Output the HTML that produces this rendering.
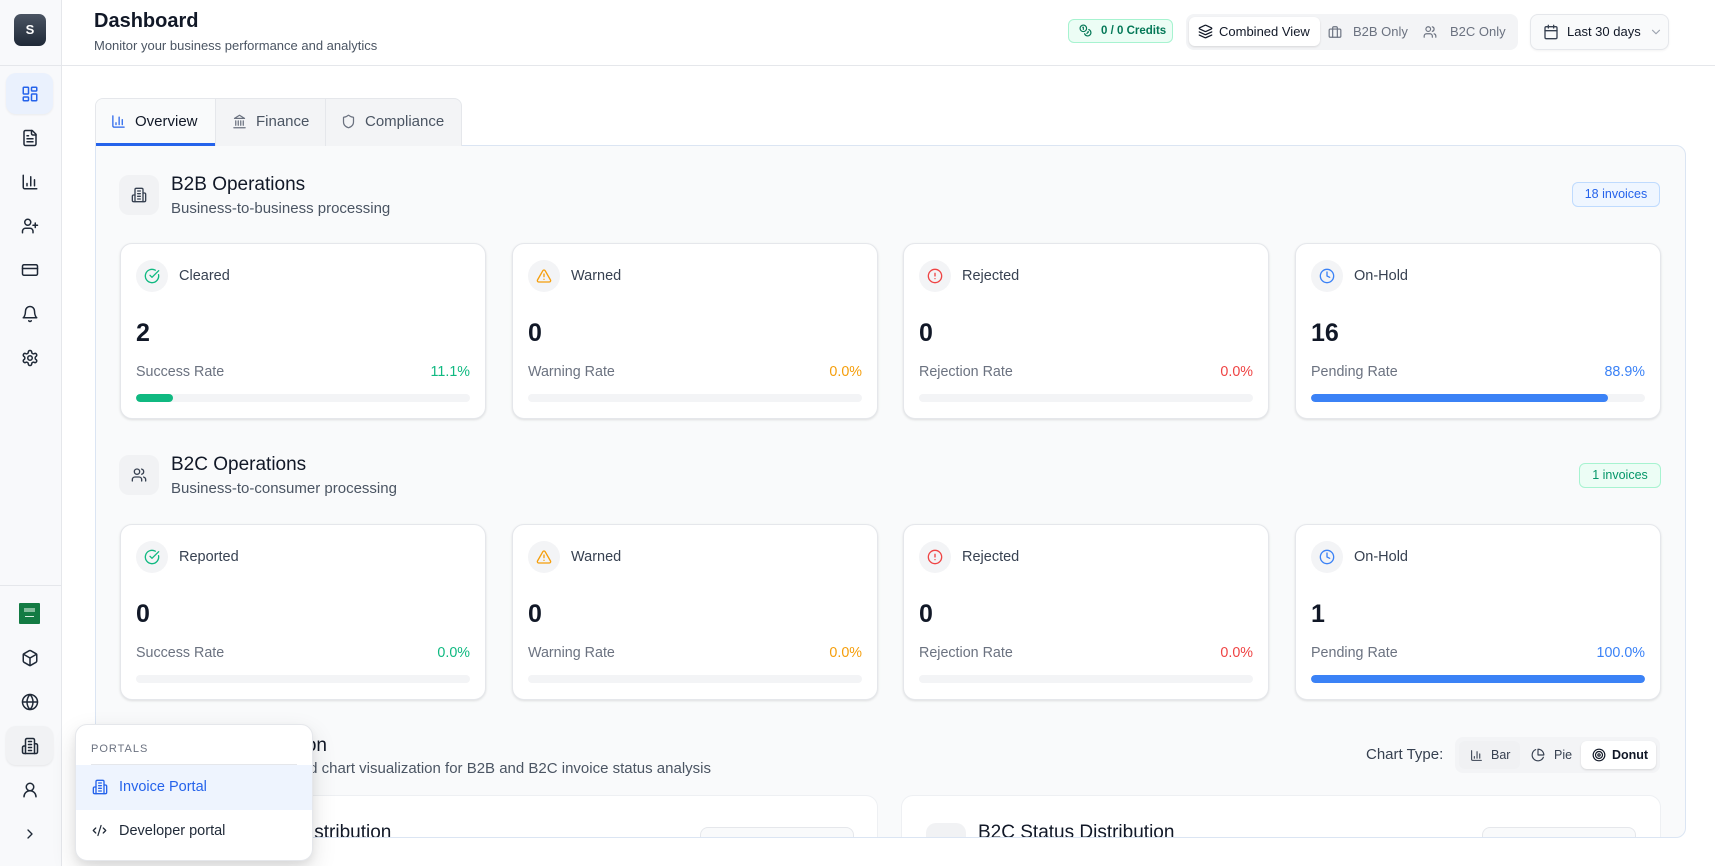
<!DOCTYPE html>
<html><head><meta charset="utf-8">
<style>
*{box-sizing:border-box;margin:0;padding:0}
html{overflow:hidden}
body{width:1715px;height:866px;overflow:hidden;background:#fff;font-family:"Liberation Sans",Arial,sans-serif;color:#111827;position:relative}
.a{position:absolute;white-space:nowrap}
svg.i{fill:none;stroke:currentColor;stroke-width:2;stroke-linecap:round;stroke-linejoin:round;position:absolute}
.side{left:0;top:0;width:62px;height:866px;background:#f8f9fb;border-right:1px solid #e5e7eb}
.sic{color:#1f2937}
.panel{left:95px;top:145px;width:1591px;height:693px;background:#f9fafb;border:1px solid #dbe5f3;border-radius:0 10px 10px 10px;overflow:hidden}
.card{position:absolute;width:366px;height:176px;background:#fff;border:1px solid #e5e7eb;border-radius:12px;box-shadow:0 1px 2px rgba(0,0,0,.07),0 1px 3px rgba(0,0,0,.05)}
.ci{position:absolute;left:15px;top:16px;width:32px;height:32px;border-radius:50%;background:#f3f4f6}
.ci svg{left:8px;top:8px}
.cl{position:absolute;left:58px;top:22px;line-height:20px;font-size:14.5px;color:#374151}
.cn{position:absolute;left:15px;top:74px;line-height:30px;font-size:25px;font-weight:600;color:#111827}
.cr{position:absolute;left:15px;right:15px;top:119px;line-height:18px;font-size:14.3px;color:#6b7280}
.cr span{position:absolute;right:0;top:0}
.cb{position:absolute;left:15px;right:15px;top:150px;height:8px;border-radius:4px;background:#f3f4f6;overflow:hidden}
.cb div{height:8px;border-radius:4px}
.hb{position:absolute;width:40px;height:40px;border-radius:10px;background:#f1f2f4;color:#374151}
.hb svg{left:12px;top:12px}
.ht{position:absolute;left:75px;font-size:19px;line-height:24px;font-weight:500;color:#111827;white-space:nowrap}
.hs{position:absolute;left:75px;font-size:15px;line-height:18px;color:#4b5563;white-space:nowrap}
.g{color:#10b981}.o{color:#f59e0b}.r{color:#ef4444}.b{color:#3b82f6}
</style></head><body>

<!-- Sidebar -->
<div class="a side"></div>
<div class="a" style="left:14px;top:14px;width:32px;height:32px;border-radius:7px;background:linear-gradient(#4b5563,#1f2937);color:#fff;font-size:13px;font-weight:bold;line-height:32px;text-align:center">S</div>
<div class="a" style="left:0;top:65px;width:1715px;height:1px;background:#e5e7eb"></div>
<div class="a" style="left:6px;top:73px;width:47px;height:41px;border-radius:10px;background:#eaf1fd;box-shadow:0 1px 2px rgba(0,0,0,.06)"></div>
<svg class="i" style="left:21px;top:85px;color:#2563eb" width="18" height="18" viewBox="0 0 24 24"><rect x="3" y="3" width="7" height="9" rx="1"/><rect x="14" y="3" width="7" height="5" rx="1"/><rect x="14" y="12" width="7" height="9" rx="1"/><rect x="3" y="16" width="7" height="5" rx="1"/></svg>
<svg class="i sic" style="left:21px;top:129px" width="18" height="18" viewBox="0 0 24 24"><path d="M15 2H6a2 2 0 0 0-2 2v16a2 2 0 0 0 2 2h12a2 2 0 0 0 2-2V7Z"/><path d="M14 2v4a2 2 0 0 0 2 2h4"/><path d="M10 9H8M16 13H8M16 17H8"/></svg>
<svg class="i sic" style="left:21px;top:173px" width="18" height="18" viewBox="0 0 24 24"><path d="M3 3v16a2 2 0 0 0 2 2h16"/><path d="M18 17V9M13 17V5M8 17v-3"/></svg>
<svg class="i sic" style="left:21px;top:217px" width="18" height="18" viewBox="0 0 24 24"><path d="M16 21v-2a4 4 0 0 0-4-4H6a4 4 0 0 0-4 4v2"/><circle cx="9" cy="7" r="4"/><path d="M19 8v6M22 11h-6"/></svg>
<svg class="i sic" style="left:21px;top:261px" width="18" height="18" viewBox="0 0 24 24"><rect x="2" y="5" width="20" height="14" rx="2"/><path d="M2 10h20"/></svg>
<svg class="i sic" style="left:21px;top:305px" width="18" height="18" viewBox="0 0 24 24"><path d="M6 8a6 6 0 0 1 12 0c0 7 3 9 3 9H3s3-2 3-9"/><path d="M10.3 21a1.94 1.94 0 0 0 3.4 0"/></svg>
<svg class="i sic" style="left:21px;top:349px" width="18" height="18" viewBox="0 0 24 24"><path d="M12.22 2h-.44a2 2 0 0 0-2 2v.18a2 2 0 0 1-1 1.73l-.43.25a2 2 0 0 1-2 0l-.15-.08a2 2 0 0 0-2.73.73l-.22.38a2 2 0 0 0 .73 2.73l.15.1a2 2 0 0 1 1 1.72v.51a2 2 0 0 1-1 1.74l-.15.09a2 2 0 0 0-.73 2.73l.22.38a2 2 0 0 0 2.73.73l.15-.08a2 2 0 0 1 2 0l.43.25a2 2 0 0 1 1 1.73V20a2 2 0 0 0 2 2h.44a2 2 0 0 0 2-2v-.18a2 2 0 0 1 1-1.73l.43-.25a2 2 0 0 1 2 0l.15.08a2 2 0 0 0 2.73-.73l.22-.39a2 2 0 0 0-.73-2.73l-.15-.08a2 2 0 0 1-1-1.74v-.5a2 2 0 0 1 1-1.74l.15-.09a2 2 0 0 0 .73-2.73l-.22-.38a2 2 0 0 0-2.73-.73l-.15.08a2 2 0 0 1-2 0l-.43-.25a2 2 0 0 1-1-1.73V4a2 2 0 0 0-2-2z"/><circle cx="12" cy="12" r="3"/></svg>
<div class="a" style="left:0;top:585px;width:61px;height:1px;background:#e5e7eb"></div>
<div class="a" style="left:19px;top:603px;width:21px;height:21px;background:#137b43;border-radius:1px"></div>
<div class="a" style="left:24px;top:608px;width:11px;height:4px;background:#9fcdb1;opacity:.8"></div>
<div class="a" style="left:25px;top:616px;width:9px;height:1px;background:#d8ece0"></div>
<svg class="i sic" style="left:21px;top:649px" width="18" height="18" viewBox="0 0 24 24"><path d="M21 8a2 2 0 0 0-1-1.73l-7-4a2 2 0 0 0-2 0l-7 4A2 2 0 0 0 3 8v8a2 2 0 0 0 1 1.73l7 4a2 2 0 0 0 2 0l7-4A2 2 0 0 0 21 16Z"/><path d="m3.3 7 8.7 5 8.7-5M12 22V12"/></svg>
<svg class="i sic" style="left:21px;top:693px" width="18" height="18" viewBox="0 0 24 24"><circle cx="12" cy="12" r="10"/><path d="M12 2a14.5 14.5 0 0 0 0 20 14.5 14.5 0 0 0 0-20M2 12h20"/></svg>
<div class="a" style="left:6px;top:726px;width:47px;height:39px;border-radius:10px;background:#f1f2f4;box-shadow:0 1px 2px rgba(0,0,0,.08)"></div>
<svg class="i sic" style="left:21px;top:737px" width="18" height="18" viewBox="0 0 24 24"><path d="M6 22V4a2 2 0 0 1 2-2h8a2 2 0 0 1 2 2v18Z"/><path d="M6 12H4a2 2 0 0 0-2 2v6a2 2 0 0 0 2 2h2M18 9h2a2 2 0 0 1 2 2v9a2 2 0 0 1-2 2h-2M10 6h4M10 10h4M10 14h4M10 18h4"/></svg>
<svg class="i sic" style="left:21px;top:781px" width="18" height="18" viewBox="0 0 24 24"><circle cx="12" cy="8" r="5"/><path d="M20 21a8 8 0 0 0-16 0"/></svg>
<svg class="i sic" style="left:22px;top:826px" width="16" height="16" viewBox="0 0 24 24"><path d="m9 18 6-6-6-6"/></svg>

<!-- Header -->
<div class="a" style="left:94px;top:9px;font-size:20px;line-height:24px;font-weight:bold;color:#111827">Dashboard</div>
<div class="a" style="left:94px;top:38px;font-size:13px;line-height:16px;color:#4b5563">Monitor your business performance and analytics</div>

<div class="a" style="left:1068px;top:19px;width:105px;height:24px;border-radius:6px;background:#ecfdf5;border:1px solid #a7f3d0;color:#047857">
<svg class="i" style="left:10px;top:4px;stroke-width:2.2" width="13" height="13" viewBox="0 0 24 24"><circle cx="8" cy="8" r="6"/><path d="M18.09 10.37A6 6 0 1 1 10.34 18M7 6h1v4m8.71 3.88.7.71-2.82 2.82"/></svg>
<div class="a" style="left:32px;top:0;line-height:22px;font-size:11.5px;font-weight:bold">0 / 0 Credits</div></div>

<div class="a" style="left:1186px;top:14px;width:332px;height:36px;border-radius:8px;background:#f3f4f6"></div>
<div class="a" style="left:1189px;top:17px;width:131px;height:29px;border-radius:6px;background:#fff;box-shadow:0 1px 2px rgba(0,0,0,.12)"></div>
<svg class="i" style="left:1198px;top:24px;color:#111827" width="15" height="15" viewBox="0 0 24 24"><path d="M12.83 2.18a2 2 0 0 0-1.66 0L2.6 6.08a1 1 0 0 0 0 1.83l8.58 3.91a2 2 0 0 0 1.66 0l8.58-3.9a1 1 0 0 0 0-1.83Z"/><path d="m22 17.65-9.17 4.16a2 2 0 0 1-1.66 0L2 17.65M22 12.65l-9.17 4.16a2 2 0 0 1-1.66 0L2 12.65"/></svg>
<div class="a" style="left:1219px;top:23px;line-height:17px;font-size:13px;font-weight:500;color:#111827">Combined View</div>
<svg class="i" style="left:1328px;top:25px;color:#6b7280" width="14" height="14" viewBox="0 0 24 24"><rect x="2" y="7" width="20" height="14" rx="2"/><path d="M16 21V5a2 2 0 0 0-2-2h-4a2 2 0 0 0-2 2v16"/></svg>
<div class="a" style="left:1353px;top:23px;line-height:17px;font-size:13px;color:#6b7280">B2B Only</div>
<svg class="i" style="left:1423px;top:25px;color:#6b7280" width="14" height="14" viewBox="0 0 24 24"><path d="M16 21v-2a4 4 0 0 0-4-4H6a4 4 0 0 0-4 4v2"/><circle cx="9" cy="7" r="4"/><path d="M22 21v-2a4 4 0 0 0-3-3.87M16 3.13a4 4 0 0 1 0 7.75"/></svg>
<div class="a" style="left:1450px;top:23px;line-height:17px;font-size:13px;color:#6b7280">B2C Only</div>

<div class="a" style="left:1530px;top:14px;width:139px;height:36px;border-radius:8px;background:#f9fafb;border:1px solid #e5e7eb;box-shadow:0 1px 2px rgba(0,0,0,.05)"></div>
<svg class="i" style="left:1543px;top:24px;color:#374151" width="16" height="16" viewBox="0 0 24 24"><rect x="3" y="4" width="18" height="18" rx="2"/><path d="M16 2v4M8 2v4M3 10h18"/></svg>
<div class="a" style="left:1567px;top:23px;line-height:17px;font-size:13px;color:#111827">Last 30 days</div>
<svg class="i" style="left:1649px;top:25px;color:#9ca3af" width="14" height="14" viewBox="0 0 24 24"><path d="m6 9 6 6 6-6"/></svg>

<!-- Panel -->
<div class="a panel">
  <!-- B2B header -->
  <div class="hb" style="left:23px;top:29px"><svg class="i" width="16" height="16" viewBox="0 0 24 24"><path d="M6 22V4a2 2 0 0 1 2-2h8a2 2 0 0 1 2 2v18Z"/><path d="M6 12H4a2 2 0 0 0-2 2v6a2 2 0 0 0 2 2h2M18 9h2a2 2 0 0 1 2 2v9a2 2 0 0 1-2 2h-2M10 6h4M10 10h4M10 14h4M10 18h4"/></svg></div>
  <div class="ht" style="top:27px">B2B Operations</div>
  <div class="hs" style="top:54px">Business-to-business processing</div>
  <div class="a" style="left:1476px;top:36px;width:88px;height:25px;border-radius:6px;background:#eff6ff;border:1px solid #bfdbfe;color:#2563eb;font-size:12.5px;line-height:23px;text-align:center">18 invoices</div>

  <!-- Row 1 -->
  <div class="card" style="left:24px;top:97px">
    <div class="ci g"><svg class="i" width="16" height="16" viewBox="0 0 24 24"><path d="M21.8 10A10 10 0 1 1 17 3.34"/><path d="m9 11 3 3L22 4"/></svg></div>
    <div class="cl">Cleared</div><div class="cn">2</div>
    <div class="cr">Success Rate<span class="g">11.1%</span></div>
    <div class="cb"><div style="width:11.1%;background:#10b981"></div></div>
  </div>
  <div class="card" style="left:416px;top:97px">
    <div class="ci o"><svg class="i" width="16" height="16" viewBox="0 0 24 24"><path d="m21.73 18-8-14a2 2 0 0 0-3.48 0l-8 14A2 2 0 0 0 4 21h16a2 2 0 0 0 1.73-3"/><path d="M12 9v4M12 17h.01"/></svg></div>
    <div class="cl">Warned</div><div class="cn">0</div>
    <div class="cr">Warning Rate<span class="o">0.0%</span></div>
    <div class="cb"></div>
  </div>
  <div class="card" style="left:807px;top:97px">
    <div class="ci r"><svg class="i" width="16" height="16" viewBox="0 0 24 24"><circle cx="12" cy="12" r="10"/><path d="M12 8v4M12 16h.01"/></svg></div>
    <div class="cl">Rejected</div><div class="cn">0</div>
    <div class="cr">Rejection Rate<span class="r">0.0%</span></div>
    <div class="cb"></div>
  </div>
  <div class="card" style="left:1199px;top:97px">
    <div class="ci b"><svg class="i" width="16" height="16" viewBox="0 0 24 24"><circle cx="12" cy="12" r="10"/><path d="M12 6v6l4 2"/></svg></div>
    <div class="cl">On-Hold</div><div class="cn">16</div>
    <div class="cr">Pending Rate<span class="b">88.9%</span></div>
    <div class="cb"><div style="width:88.9%;background:#3b82f6"></div></div>
  </div>

  <!-- B2C header -->
  <div class="hb" style="left:23px;top:309px"><svg class="i" width="16" height="16" viewBox="0 0 24 24"><path d="M16 21v-2a4 4 0 0 0-4-4H6a4 4 0 0 0-4 4v2"/><circle cx="9" cy="7" r="4"/><path d="M22 21v-2a4 4 0 0 0-3-3.87M16 3.13a4 4 0 0 1 0 7.75"/></svg></div>
  <div class="ht" style="top:307px">B2C Operations</div>
  <div class="hs" style="top:334px">Business-to-consumer processing</div>
  <div class="a" style="left:1483px;top:317px;width:82px;height:25px;border-radius:6px;background:#ecfdf5;border:1px solid #a7f3d0;color:#059669;font-size:12.5px;line-height:23px;text-align:center">1 invoices</div>

  <!-- Row 2 -->
  <div class="card" style="left:24px;top:378px">
    <div class="ci g"><svg class="i" width="16" height="16" viewBox="0 0 24 24"><path d="M21.8 10A10 10 0 1 1 17 3.34"/><path d="m9 11 3 3L22 4"/></svg></div>
    <div class="cl">Reported</div><div class="cn">0</div>
    <div class="cr">Success Rate<span class="g">0.0%</span></div>
    <div class="cb"></div>
  </div>
  <div class="card" style="left:416px;top:378px">
    <div class="ci o"><svg class="i" width="16" height="16" viewBox="0 0 24 24"><path d="m21.73 18-8-14a2 2 0 0 0-3.48 0l-8 14A2 2 0 0 0 4 21h16a2 2 0 0 0 1.73-3"/><path d="M12 9v4M12 17h.01"/></svg></div>
    <div class="cl">Warned</div><div class="cn">0</div>
    <div class="cr">Warning Rate<span class="o">0.0%</span></div>
    <div class="cb"></div>
  </div>
  <div class="card" style="left:807px;top:378px">
    <div class="ci r"><svg class="i" width="16" height="16" viewBox="0 0 24 24"><circle cx="12" cy="12" r="10"/><path d="M12 8v4M12 16h.01"/></svg></div>
    <div class="cl">Rejected</div><div class="cn">0</div>
    <div class="cr">Rejection Rate<span class="r">0.0%</span></div>
    <div class="cb"></div>
  </div>
  <div class="card" style="left:1199px;top:378px">
    <div class="ci b"><svg class="i" width="16" height="16" viewBox="0 0 24 24"><circle cx="12" cy="12" r="10"/><path d="M12 6v6l4 2"/></svg></div>
    <div class="cl">On-Hold</div><div class="cn">1</div>
    <div class="cr">Pending Rate<span class="b">100.0%</span></div>
    <div class="cb"><div style="width:100%;background:#3b82f6"></div></div>
  </div>

  <!-- Section 3 -->
  <div class="hb" style="left:23px;top:590px"></div>
  <div class="ht" style="top:588px;left:auto;right:1358px">Status Distribution</div>
  <div class="hs" style="top:614px;left:auto;right:974px">Interactive status-based chart visualization for B2B and B2C invoice status analysis</div>
  <div class="a" style="left:1270px;top:600px;font-size:15px;line-height:18px;color:#374151">Chart Type:</div>
  <div class="a" style="left:1359px;top:591px;width:205px;height:36px;border-radius:8px;background:#f3f4f6"></div>
  <div class="a" style="left:1363px;top:595px;width:61px;height:28px;border-radius:6px;background:#f0f1f3"></div>
  <svg class="i" style="left:1374px;top:603px;color:#374151" width="13" height="13" viewBox="0 0 24 24"><path d="M3 3v16a2 2 0 0 0 2 2h16"/><path d="M18 17V9M13 17V5M8 17v-3"/></svg>
  <div class="a" style="left:1395px;top:601px;font-size:12.5px;line-height:16px;color:#374151">Bar</div>
  <svg class="i" style="left:1435px;top:602px;color:#374151" width="14" height="14" viewBox="0 0 24 24"><path d="M21.21 15.89A10 10 0 1 1 8 2.83"/><path d="M22 12A10 10 0 0 0 12 2v10z"/></svg>
  <div class="a" style="left:1458px;top:601px;font-size:12.5px;line-height:16px;color:#374151">Pie</div>
  <div class="a" style="left:1485px;top:595px;width:75px;height:28px;border-radius:6px;background:#fff;box-shadow:0 1px 2px rgba(0,0,0,.12)"></div>
  <svg class="i" style="left:1496px;top:602px;color:#111827" width="14" height="14" viewBox="0 0 24 24"><circle cx="12" cy="12" r="10"/><circle cx="12" cy="12" r="6"/><circle cx="12" cy="12" r="2"/></svg>
  <div class="a" style="left:1516px;top:601px;font-size:12.5px;line-height:16px;font-weight:bold;color:#111827">Donut</div>

  <!-- Bottom cards (clipped by panel) -->
  <div class="a" style="left:23px;top:649px;width:759px;height:60px;border-radius:12px 12px 0 0;background:#fff;border:1px solid #eef0f3;border-bottom:none;overflow:hidden">
    <div class="hb" style="left:24px;top:27px"></div>
    <div class="ht" style="left:76px;top:25px">B2B Status Distribution</div>
    <div class="a" style="left:580px;top:31px;width:154px;height:28px;border-radius:8px 8px 0 0;background:#f9fafb;border:1px solid #e5e7eb;border-bottom:none"></div>
  </div>
  <div class="a" style="left:805px;top:649px;width:760px;height:60px;border-radius:12px 12px 0 0;background:#fff;border:1px solid #eef0f3;border-bottom:none;overflow:hidden">
    <div class="hb" style="left:24px;top:27px"></div>
    <div class="ht" style="left:76px;top:25px">B2C Status Distribution</div>
    <div class="a" style="left:580px;top:31px;width:154px;height:28px;border-radius:8px 8px 0 0;background:#f9fafb;border:1px solid #e5e7eb;border-bottom:none"></div>
  </div>
</div>

<!-- Tabs -->
<div class="a" style="left:95px;top:98px;width:367px;height:48px;border:1px solid #e5e7eb;border-bottom:none;border-radius:8px 8px 0 0;background:#f3f4f6;overflow:hidden">
  <div class="a" style="left:0;top:0;width:120px;height:47px;background:#f9fafb;border-bottom:3px solid #2563eb"></div>
  <div class="a" style="left:119px;top:0;width:1px;height:47px;background:#e5e7eb"></div>
  <div class="a" style="left:229px;top:0;width:1px;height:47px;background:#e5e7eb"></div>
</div>
<svg class="i" style="left:111px;top:114px;color:#2563eb" width="15" height="15" viewBox="0 0 24 24"><path d="M3 3v16a2 2 0 0 0 2 2h16"/><path d="M18 17V9M13 17V5M8 17v-3"/></svg>
<div class="a" style="left:135px;top:112px;font-size:15px;line-height:19px;font-weight:500;color:#111827">Overview</div>
<svg class="i" style="left:232px;top:114px;color:#6b7280" width="15" height="15" viewBox="0 0 24 24"><path d="M3 22h18M6 18v-7M10 18v-7M14 18v-7M18 18v-7M12 2l8 5H4z"/></svg>
<div class="a" style="left:256px;top:112px;font-size:15px;line-height:19px;color:#4b5563">Finance</div>
<svg class="i" style="left:341px;top:114px;color:#6b7280" width="15" height="15" viewBox="0 0 24 24"><path d="M20 13c0 5-3.5 7.5-7.66 8.95a1 1 0 0 1-.67-.01C7.5 20.5 4 18 4 13V6a1 1 0 0 1 1-1c2 0 4.5-1.2 6.24-2.72a1.17 1.17 0 0 1 1.52 0C14.51 3.81 17 5 19 5a1 1 0 0 1 1 1z"/></svg>
<div class="a" style="left:365px;top:112px;font-size:15px;line-height:19px;color:#4b5563">Compliance</div>

<!-- Popup -->
<div class="a" style="left:75px;top:724px;width:238px;height:137px;border-radius:12px;background:#fff;border:1px solid #e5e7eb;box-shadow:0 10px 25px rgba(0,0,0,.12),0 4px 8px rgba(0,0,0,.06);overflow:hidden">
  <div class="a" style="left:15px;top:16px;font-size:11px;line-height:16px;letter-spacing:1px;color:#6b7280">PORTALS</div>
  <div class="a" style="left:15px;top:39px;width:206px;height:1px;background:#e5e7eb"></div>
  <div class="a" style="left:0;top:40px;width:238px;height:45px;background:#eef4fe"></div>
  <svg class="i" style="left:16px;top:54px;color:#2563eb" width="16" height="16" viewBox="0 0 24 24"><path d="M6 22V4a2 2 0 0 1 2-2h8a2 2 0 0 1 2 2v18Z"/><path d="M6 12H4a2 2 0 0 0-2 2v6a2 2 0 0 0 2 2h2M18 9h2a2 2 0 0 1 2 2v9a2 2 0 0 1-2 2h-2M10 6h4M10 10h4M10 14h4M10 18h4"/></svg>
  <div class="a" style="left:43px;top:53px;font-size:14.5px;line-height:18px;color:#2563eb">Invoice Portal</div>
  <svg class="i" style="left:16px;top:98px;color:#1f2937" width="15" height="15" viewBox="0 0 24 24"><path d="m18 16 4-4-4-4M6 8l-4 4 4 4M14.5 4l-5 16"/></svg>
  <div class="a" style="left:43px;top:97px;font-size:14.5px;line-height:18px;color:#1f2937">Developer portal</div>
</div>

</body></html>
